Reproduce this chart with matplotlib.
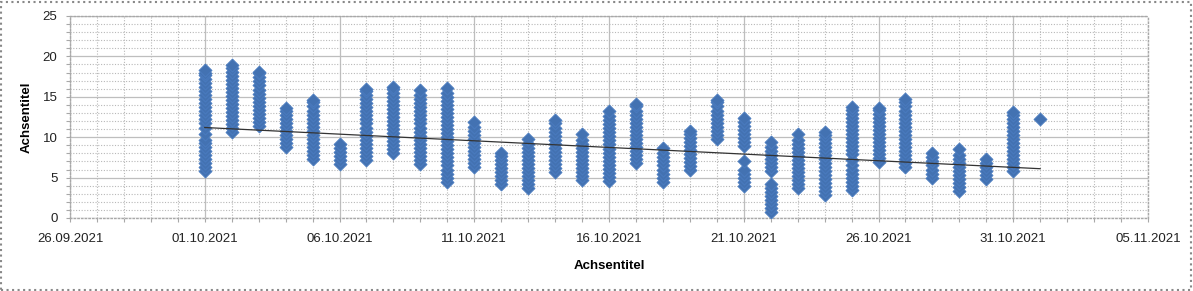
import numpy as np
import pandas as pd
import matplotlib
matplotlib.use("Agg")
import matplotlib.pyplot as plt
import matplotlib.dates as mdates
from matplotlib.patches import Rectangle

d01 = [5.8, 6.3, 6.8, 7.3, 7.8, 8.3, 8.8, 9.3, 9.7, 10.4, 11.1, 11.7, 12.2, 12.7, 13.2, 13.7, 14.2, 14.7, 15.2, 15.7, 16.2, 16.7, 17.2, 17.7, 18.0, 18.3]
d02 = [10.6, 11.1, 11.6, 12.1, 12.6, 13.1, 13.6, 14.1, 14.6, 15.1, 15.6, 16.1, 16.6, 17.1, 17.6, 18.1, 18.6, 18.9]
d03 = [11.4, 11.9, 12.4, 12.9, 13.4, 13.9, 14.4, 14.9, 15.4, 15.9, 16.4, 16.9, 17.4, 17.9, 18.1]
d04 = [8.8, 9.3, 9.8, 10.3, 10.8, 11.3, 11.8, 12.3, 12.8, 13.3, 13.6]
d05 = [7.3, 7.8, 8.3, 8.8, 9.3, 9.8, 10.3, 10.8, 11.3, 11.8, 12.3, 12.8, 13.3, 13.8, 14.3, 14.6]
d06 = [6.7, 7.2, 7.7, 8.2, 8.7, 9.2]
d07 = [7.2, 7.7, 8.2, 8.7, 9.2, 9.7, 10.2, 10.7, 11.2, 11.7, 12.2, 12.7, 13.2, 13.7, 14.2, 14.7, 15.2, 15.7, 16.0]
d08 = [8.0, 8.5, 9.0, 9.5, 10.0, 10.5, 11.0, 11.5, 12.0, 12.5, 13.0, 13.5, 14.0, 14.5, 15.0, 15.5, 16.0, 16.2]
d09 = [6.7, 7.2, 7.7, 8.2, 8.7, 9.2, 9.7, 10.2, 10.7, 11.2, 11.7, 12.2, 12.7, 13.2, 13.7, 14.2, 14.7, 15.2, 15.8]
d10 = [4.5, 5.0, 5.5, 6.0, 6.5, 7.0, 7.5, 8.0, 8.5, 9.0, 9.5, 10.0, 10.5, 11.0, 11.5, 12.0, 12.5, 13.0, 13.5, 14.0, 14.5, 15.0, 15.5, 16.1]
d11 = [6.3, 6.8, 7.3, 7.8, 8.3, 8.8, 9.3, 9.8, 10.3, 10.8, 11.3, 11.9]
d12 = [4.2, 4.7, 5.2, 5.7, 6.2, 6.7, 7.2, 7.7, 8.0]
d13 = [3.7, 4.2, 4.7, 5.2, 5.7, 6.2, 6.7, 7.2, 7.7, 8.2, 8.7, 9.2, 9.8]
d14 = [5.7, 6.2, 6.7, 7.2, 7.7, 8.2, 8.7, 9.2, 9.7, 10.2, 10.7, 11.2, 11.7, 12.1]
d15 = [4.7, 5.2, 5.7, 6.2, 6.7, 7.2, 7.7, 8.2, 8.7, 9.2, 9.7, 10.4]
d16 = [4.6, 5.1, 5.6, 6.1, 6.6, 7.1, 7.6, 8.1, 8.6, 9.1, 9.6, 10.1, 10.6, 11.1, 11.6, 12.1, 12.6, 13.2]
d17 = [6.8, 7.3, 7.8, 8.3, 8.8, 9.3, 9.8, 10.3, 10.8, 11.3, 11.8, 12.3, 12.8, 13.3, 13.8, 14.1]
d18 = [4.5, 5.0, 5.5, 6.0, 6.5, 7.0, 7.5, 8.0, 8.7]
d19 = [5.9, 6.4, 6.9, 7.4, 7.9, 8.4, 8.9, 9.4, 9.9, 10.4, 10.8]
d20 = [9.8, 10.3, 10.8, 11.3, 11.8, 12.3, 12.8, 13.3, 13.8, 14.3, 14.6]
d21 = [4.0, 4.5, 5.0, 5.5, 5.9, 7.05, 8.9, 9.4, 9.9, 10.4, 10.9, 11.4, 11.9, 12.4]
d22 = [0.7, 1.2, 1.7, 2.2, 2.7, 3.2, 3.7, 4.2, 5.8, 6.3, 6.8, 7.3, 7.8, 8.3, 8.8, 9.4]
d23 = [3.7, 4.2, 4.7, 5.2, 5.7, 6.2, 6.7, 7.2, 7.7, 8.2, 8.7, 9.2, 9.7, 10.4]
d24 = [2.8, 3.3, 3.8, 4.3, 4.8, 5.3, 5.8, 6.3, 6.8, 7.3, 7.8, 8.3, 8.8, 9.3, 9.8, 10.3, 10.6]
d25 = [3.5, 4.0, 4.5, 5.0, 5.5, 6.0, 6.5, 7.2, 7.9, 8.4, 8.9, 9.4, 9.9, 10.4, 10.9, 11.4, 11.9, 12.4, 12.9, 13.4, 13.7]
d26 = [6.9, 7.4, 7.9, 8.4, 8.9, 9.4, 9.9, 10.4, 10.9, 11.4, 11.9, 12.4, 12.9, 13.4, 13.6]
d27 = [6.3, 6.8, 7.3, 7.8, 8.3, 8.8, 9.3, 9.8, 10.3, 10.8, 11.3, 11.8, 12.3, 12.8, 13.3, 13.8, 14.3, 14.7]
d28 = [5.0, 5.5, 6.0, 6.5, 7.0, 7.5, 8.0]
d29 = [3.3, 3.8, 4.3, 4.8, 5.3, 5.8, 6.3, 6.8, 7.3, 7.8, 8.5]
d30 = [4.8, 5.3, 5.8, 6.3, 6.8, 7.3]
d31 = [5.8, 6.3, 6.8, 7.3, 7.8, 8.3, 8.8, 9.3, 9.8, 10.3, 10.8, 11.3, 11.8, 12.3, 12.8, 13.1]
d32 = [12.3]

days = pd.date_range("2021-10-01", "2021-11-01", freq="D")
per_day = [d01, d02, d03, d04, d05, d06, d07, d08, d09, d10, d11, d12, d13, d14, d15, d16,
           d17, d18, d19, d20, d21, d22, d23, d24, d25, d26, d27, d28, d29, d30, d31, d32]

trend_dates = ["2021-10-01", "2021-11-01"]
trend_values = [11.2, 6.1]

x_start, x_end = "2021-09-26", "2021-11-05"
axis_title = "Achsentitel"

xs, ys = [], []
for day, vals in zip(days, per_day):
    xs += [mdates.date2num(day)] * len(vals)
    ys += vals

plt.rcParams["font.family"] = ["Liberation Sans", "DejaVu Sans"]

fig = plt.figure(figsize=(11.93, 2.91), dpi=100)
ax = fig.add_axes([70 / 1193, 1 - 218 / 291, 1078 / 1193, 202 / 291])

ax.scatter(xs, ys, marker="D", s=44, color="#4372B2", edgecolor="#4A7CC0",
           linewidths=0.6, zorder=3)

ax.plot(mdates.date2num(pd.to_datetime(trend_dates)), trend_values,
        color="#333333", lw=0.9, zorder=4)

ax.set_xlim(mdates.date2num(pd.Timestamp(x_start)), mdates.date2num(pd.Timestamp(x_end)))
ax.set_ylim(0, 25)
ax.set_xticks(mdates.date2num(pd.date_range(x_start, x_end, freq="5D")))
ax.set_xticks(mdates.date2num(pd.date_range(x_start, x_end, freq="D")), minor=True)
ax.xaxis.set_major_formatter(mdates.DateFormatter("%d.%m.%Y"))
ax.set_yticks(np.arange(0, 26, 5))
ax.set_yticks(np.arange(0, 26, 1), minor=True)

ax.grid(which="major", color="#BEBEBE", lw=0.9, ls="-", zorder=0)
ax.grid(which="minor", color="#B8B8B8", lw=0.8, ls=(0, (1, 1.5)), zorder=0)
ax.set_axisbelow(True)

for sp in ax.spines.values():
    sp.set_color("#A8A8A8")
    sp.set_linestyle(":")
    sp.set_linewidth(1.0)

ax.tick_params(which="both", direction="out", length=3, color="#A8A8A8", width=0.8)
ax.tick_params(axis="x", which="major", labelsize=9.5, pad=7.5, labelcolor="#222222")
ax.tick_params(axis="y", which="major", labelsize=9.5, pad=6, labelcolor="#222222")

ax.set_xlabel(axis_title, fontsize=9.5, fontweight="bold")
ax.xaxis.set_label_coords(0.5, (218 - 266) / 202)
ax.xaxis.label.set_va("center")
ax.set_ylabel(axis_title, fontsize=9.5, fontweight="bold")
ax.yaxis.set_label_coords((27 - 70) / 1078, 0.5)
ax.yaxis.label.set_va("center")

fig.patches.append(Rectangle((1 / 1193, 1 / 291), 1190 / 1193, 288 / 291, transform=fig.transFigure,
                             fill=False, ls=":", lw=1.5, edgecolor="#888888"))

fig.savefig("out.png", dpi=100)
